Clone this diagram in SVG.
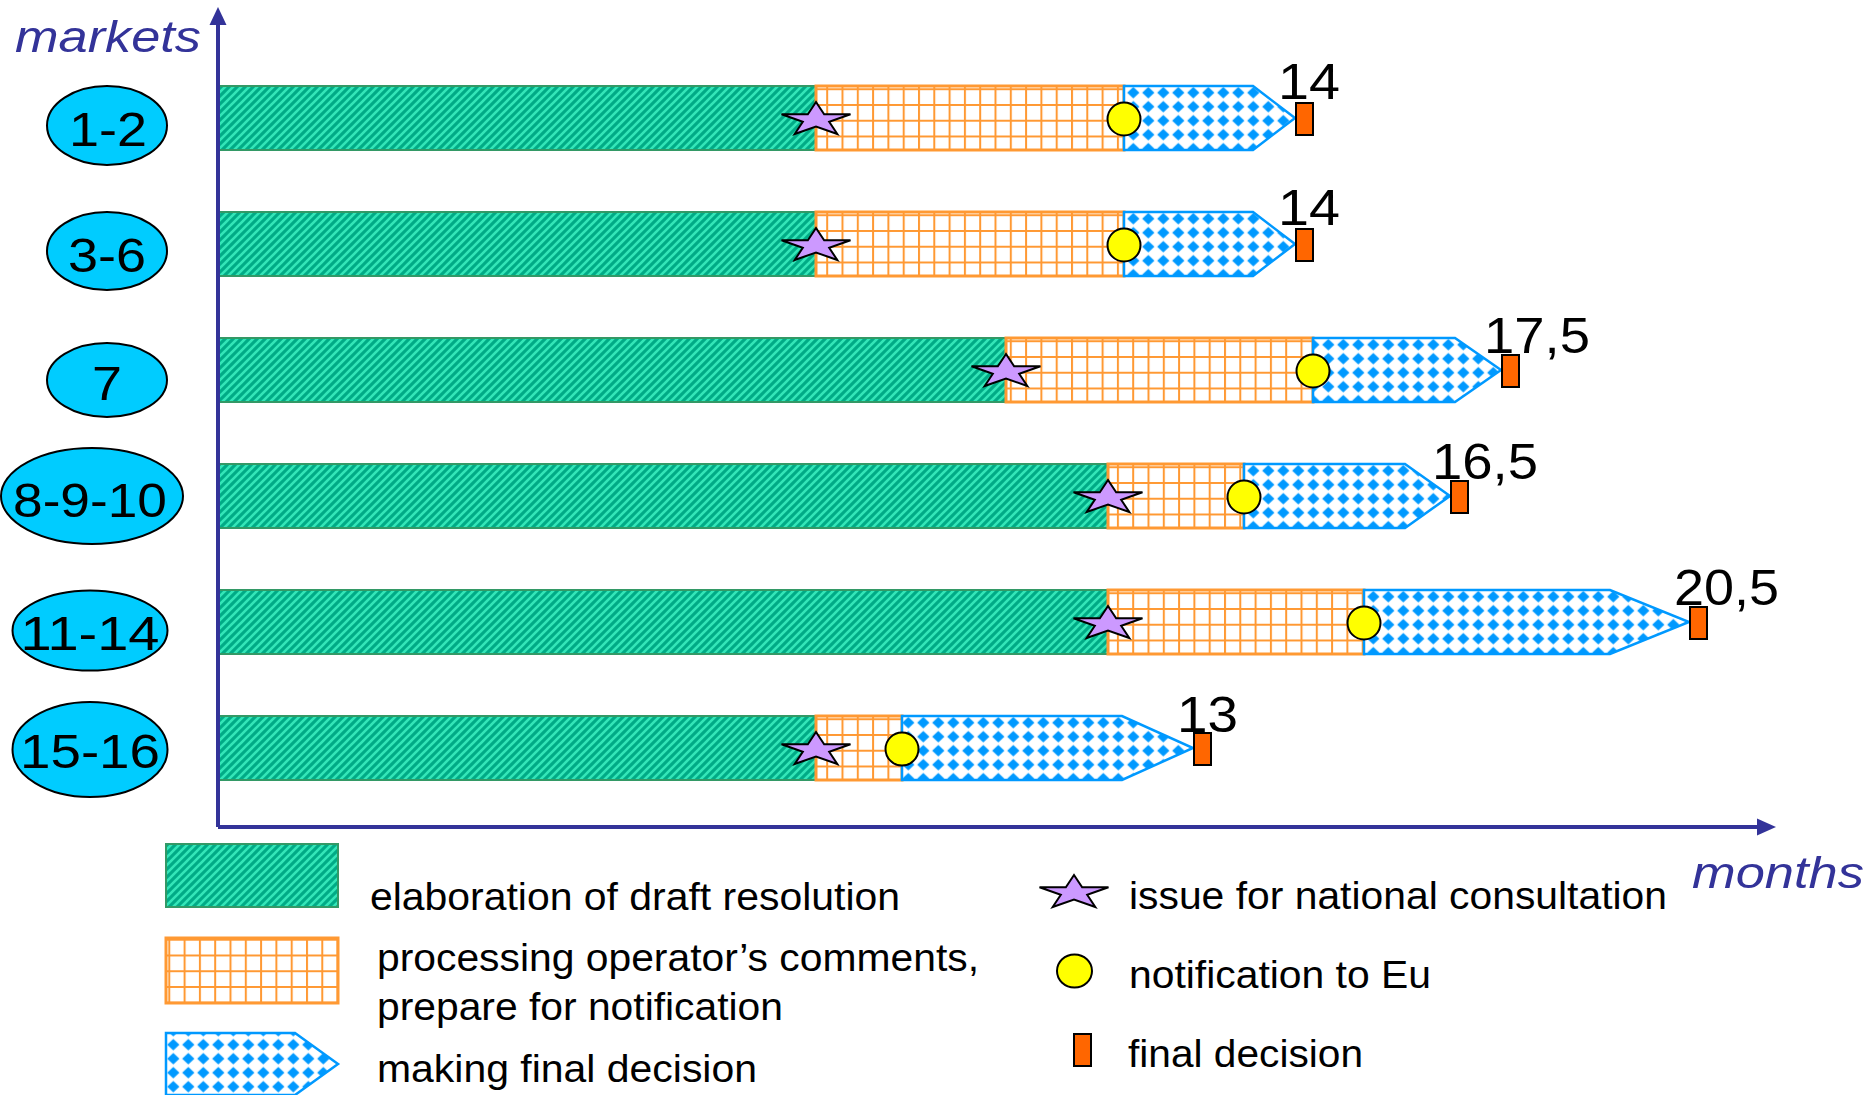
<svg xmlns="http://www.w3.org/2000/svg" xmlns:xlink="http://www.w3.org/1999/xlink" width="1874" height="1095" viewBox="0 0 1874 1095">
<style>
  .t { font-family: "Liberation Sans", Arial, sans-serif; fill: #000; }
  .lbl { font-size: 50px; }
  .mk { font-size: 49px; text-anchor: middle; }
  .leg { font-size: 38px; }
  .ax { font-family: "Liberation Sans", Arial, sans-serif; font-style: italic; font-size: 45px; fill: #333399; }
  .ell { fill: #00ccff; stroke: #000; stroke-width: 2; }
  .g { fill: url(#pGreen); stroke: #339966; stroke-width: 2; }
  .o { fill: url(#pOrange); stroke: #ff9933; stroke-width: 3; }
  .b { fill: url(#pBlue); stroke: #0099ff; stroke-width: 2.5; stroke-linejoin: miter; }
  .star { fill: #cc99ff; stroke: #000; stroke-width: 2; }
  .dot { fill: #ffff00; stroke: #000; stroke-width: 2; }
  .fin { fill: #ff6600; stroke: #000; stroke-width: 2; }
  .axis { stroke: #333399; stroke-width: 4; fill: none; }
</style>
<defs>
  <pattern id="pGreen" patternUnits="userSpaceOnUse" width="8" height="8">
    <rect width="8" height="8" fill="#00ab86"/>
    <path d="M-2,2 L2,-2 M0,8 L8,0 M6,10 L10,6" stroke="#33e6b8" stroke-width="2.6"/>
  </pattern>
  <pattern id="pOrange" patternUnits="userSpaceOnUse" width="15.3" height="15.75" patternTransform="translate(0,9.5)">
    <rect width="15.3" height="15.75" fill="#fff"/>
    <path d="M0,1 H15.3 M1,0 V15.75" stroke="#ff9933" stroke-width="2"/>
  </pattern>
  <pattern id="pBlue" patternUnits="userSpaceOnUse" width="15" height="14" patternTransform="translate(0.8,1.7)">
    <rect width="15" height="14" fill="#fff"/>
    <path d="M7.5,1.3 L13.6,7 L7.5,12.7 L1.4,7Z" fill="#0099ff"/>
  </pattern>
  <path id="star" class="star" d="M0,-17.7 L8.15,-5.47 L34.5,-5.47 L13.19,2.09 L21.3,14.32 L0,6.76 L-21.3,14.32 L-13.19,2.09 L-34.5,-5.47 L-8.15,-5.47 Z"/>
</defs>
<rect width="1874" height="1095" fill="#fff"/>

<g id="row-1-2">
  <ellipse class="ell" cx="107" cy="125.5" rx="60" ry="39.5"/>
  <text class="t mk" x="108" y="146" textLength="78" lengthAdjust="spacingAndGlyphs">1-2</text>
  <rect class="g" x="218" y="86" width="598" height="64"/>
  <rect class="o" x="816" y="86" width="308" height="64"/>
  <polygon class="b" points="1124,86 1253,86 1295,118 1253,150 1124,150"/>
  <use href="#star" x="816" y="119.7"/>
  <circle class="dot" cx="1124" cy="119" r="16.5"/>
  <text class="t lbl" x="1278" y="99" textLength="62" lengthAdjust="spacingAndGlyphs">14</text>
  <rect class="fin" x="1296" y="103" width="17" height="32"/>
</g>

<g id="row-3-6">
  <ellipse class="ell" cx="107" cy="251" rx="60" ry="39"/>
  <text class="t mk" x="107" y="272" textLength="78" lengthAdjust="spacingAndGlyphs">3-6</text>
  <rect class="g" x="218" y="212" width="598" height="64"/>
  <rect class="o" x="816" y="212" width="308" height="64"/>
  <polygon class="b" points="1124,212 1253,212 1295,244 1253,276 1124,276"/>
  <use href="#star" x="816" y="245.7"/>
  <circle class="dot" cx="1124" cy="245" r="16.5"/>
  <text class="t lbl" x="1278" y="225" textLength="62" lengthAdjust="spacingAndGlyphs">14</text>
  <rect class="fin" x="1296" y="229" width="17" height="32"/>
</g>

<g id="row-7">
  <ellipse class="ell" cx="107" cy="380" rx="60" ry="37"/>
  <text class="t mk" x="107" y="400" textLength="30" lengthAdjust="spacingAndGlyphs">7</text>
  <rect class="g" x="218" y="338" width="788" height="64"/>
  <rect class="o" x="1006" y="338" width="307" height="64"/>
  <polygon class="b" points="1313,338 1455,338 1501,370 1455,402 1313,402"/>
  <use href="#star" x="1006" y="371.7"/>
  <circle class="dot" cx="1313" cy="371" r="16.5"/>
  <text class="t lbl" x="1484" y="353" textLength="106" lengthAdjust="spacingAndGlyphs">17,5</text>
  <rect class="fin" x="1502" y="355" width="17" height="32"/>
</g>

<g id="row-8-9-10">
  <ellipse class="ell" cx="92" cy="496" rx="91" ry="48"/>
  <text class="t mk" x="90" y="517" textLength="154" lengthAdjust="spacingAndGlyphs">8-9-10</text>
  <rect class="g" x="218" y="464" width="890" height="64"/>
  <rect class="o" x="1108" y="464" width="136" height="64"/>
  <polygon class="b" points="1244,464 1405,464 1450,496 1405,528 1244,528"/>
  <use href="#star" x="1108" y="497.7"/>
  <circle class="dot" cx="1244" cy="497" r="16.5"/>
  <text class="t lbl" x="1432" y="479" textLength="106" lengthAdjust="spacingAndGlyphs">16,5</text>
  <rect class="fin" x="1451" y="481" width="17" height="32"/>
</g>

<g id="row-11-14">
  <ellipse class="ell" cx="90" cy="630.5" rx="77.5" ry="40"/>
  <text class="t mk" x="90" y="650" textLength="139" lengthAdjust="spacingAndGlyphs">11-14</text>
  <rect class="g" x="218" y="590" width="890" height="64"/>
  <rect class="o" x="1108" y="590" width="256" height="64"/>
  <polygon class="b" points="1364,590 1610,590 1689,622 1610,654 1364,654"/>
  <use href="#star" x="1108" y="623.7"/>
  <circle class="dot" cx="1364" cy="623" r="16.5"/>
  <text class="t lbl" x="1674" y="605" textLength="105" lengthAdjust="spacingAndGlyphs">20,5</text>
  <rect class="fin" x="1690" y="607" width="17" height="32"/>
</g>

<g id="row-15-16">
  <ellipse class="ell" cx="90" cy="749.5" rx="77.5" ry="47.5"/>
  <text class="t mk" x="90" y="768" textLength="140" lengthAdjust="spacingAndGlyphs">15-16</text>
  <rect class="g" x="218" y="716" width="598" height="64"/>
  <rect class="o" x="816" y="716" width="86" height="64"/>
  <polygon class="b" points="902,716 1122,716 1193,748 1122,780 902,780"/>
  <use href="#star" x="816" y="749.7"/>
  <circle class="dot" cx="902" cy="749" r="16.5"/>
  <text class="t lbl" x="1177" y="732" textLength="61" lengthAdjust="spacingAndGlyphs">13</text>
  <rect class="fin" x="1194" y="733" width="17" height="32"/>
</g>

<g id="axes">
  <path class="axis" d="M218,827 V22"/>
  <polygon points="218,7 209.5,25 226.5,25" fill="#333399"/>
  <path class="axis" d="M218,827 H1760"/>
  <polygon points="1776,827 1757,818.5 1757,835.5" fill="#333399"/>
  <text class="ax" x="15" y="52" textLength="186" lengthAdjust="spacingAndGlyphs">markets</text>
  <text class="ax" x="1692" y="888" textLength="172" lengthAdjust="spacingAndGlyphs">months</text>
</g>

<g id="legend">
  <g id="legend-draft">
    <rect class="g" x="166" y="844" width="172" height="63"/>
    <text class="t leg" x="370" y="910" textLength="530" lengthAdjust="spacingAndGlyphs">elaboration of draft resolution</text>
  </g>
  <g id="legend-processing">
    <rect class="o" x="166" y="938" width="172" height="65"/>
    <text class="t leg" x="377" y="971" textLength="602" lengthAdjust="spacingAndGlyphs">processing operator’s comments,</text>
    <text class="t leg" x="377" y="1020" textLength="406" lengthAdjust="spacingAndGlyphs">prepare for notification</text>
  </g>
  <g id="legend-final-making">
    <polygon class="b" points="166,1033 295,1033 338,1064 295,1095 166,1095"/>
    <text class="t leg" x="377" y="1082" textLength="380" lengthAdjust="spacingAndGlyphs">making final decision</text>
  </g>
  <g id="legend-issue">
    <use href="#star" x="1074" y="892.7"/>
    <text class="t leg" x="1129" y="909" textLength="538" lengthAdjust="spacingAndGlyphs">issue for national consultation</text>
  </g>
  <g id="legend-notification">
    <ellipse class="dot" cx="1074.5" cy="971" rx="17.5" ry="16.5"/>
    <text class="t leg" x="1129" y="988" textLength="302" lengthAdjust="spacingAndGlyphs">notification to Eu</text>
  </g>
  <g id="legend-final">
    <rect class="fin" x="1074" y="1034" width="17" height="32"/>
    <text class="t leg" x="1128" y="1067" textLength="235" lengthAdjust="spacingAndGlyphs">final decision</text>
  </g>
</g>
</svg>
